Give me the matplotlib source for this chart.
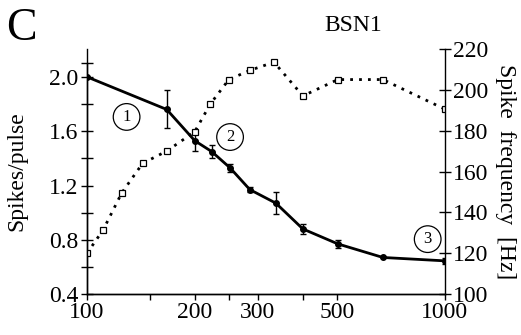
import numpy as np
import matplotlib.pyplot as plt

plt.rcParams["font.family"] = ["Liberation Serif", "DejaVu Serif"]

# stimulus rate (pulses/s) for spikes/pulse curve
rate = [100, 167, 200, 223, 251, 285, 337, 401, 502, 671, 1000]
spikes = [2.0, 1.76, 1.53, 1.45, 1.33, 1.17, 1.07, 0.88, 0.77, 0.67, 0.645]
spikes_err = [0.0, 0.14, 0.075, 0.05, 0.03, 0.02, 0.08, 0.035, 0.03, 0.0, 0.02]

# spike frequency curve (right axis)
rate_f = [100, 111, 125, 143, 167, 200, 221, 249, 285, 333, 401, 502, 671, 1000]
freq = [120, 131.5, 149.5, 164, 170, 179.5, 193, 205, 209.5, 213.5, 197, 205, 205, 190.5]

circ_labels = ["1", "2", "3"]
circ_x = [129, 251, 895]
circ_y = [1.705, 1.557, 0.805]

fig = plt.figure(figsize=(5.21, 3.35), dpi=100)
ax = fig.add_axes([0.167, 0.122, 0.687, 0.732])
ax2 = ax.twinx()

ax.errorbar(rate, spikes, yerr=spikes_err, color="black", lw=2.0, marker="o", ms=4,
            capsize=2.5, elinewidth=1.0, capthick=1.0, zorder=3)
ax2.plot(rate_f, freq, color="black", ls=(0, (1, 2.2)), lw=2.0, marker="s", ms=4,
         mfc="white", mec="black", mew=0.9)

ax.set_xscale("log")
ax.set_xlim(100, 1000)
ax.set_ylim(0.4, 2.206)
ax2.set_ylim(100, 220)

ax.set_xticks([100, 150, 200, 250, 300, 400, 500, 1000])
ax.set_xticklabels(["100", "", "200", "", "300", "", "500", "1000"])
ax.xaxis.set_minor_locator(plt.NullLocator())
ax.set_yticks(list(np.arange(0.4, 2.01, 0.2)) + [2.1])
ax.set_yticklabels(["0.4", "", "0.8", "", "1.2", "", "1.6", "", "2.0", ""])
ax2.set_yticks(np.arange(100, 221, 20))

for a in (ax, ax2):
    a.spines["top"].set_visible(False)
    for s in a.spines.values():
        s.set_linewidth(1.0)
ax.spines["left"].set_bounds(0.4, 2.1)
ax.spines["right"].set_visible(False)

ax.tick_params(axis="x", direction="out", length=4, width=1, labelsize=17, pad=2)
ax.tick_params(axis="y", direction="inout", length=8, width=1, labelsize=17, pad=2)
ax2.tick_params(axis="y", direction="inout", length=8, width=1, labelsize=17, pad=2)

ax.set_ylabel("Spikes/pulse", fontsize=17, va="center")
ax.yaxis.set_label_coords(-0.195, 0.5)
ax2.set_ylabel("Spike  frequency  [Hz]", fontsize=17, rotation=-90, va="center")
ax2.yaxis.set_label_coords(1.168, 0.5)

for lab, cx, cy in zip(circ_labels, circ_x, circ_y):
    ax.text(cx, cy, lab, fontsize=12, ha="center", va="center",
            bbox=dict(boxstyle="circle,pad=0.32", fc="white", ec="black", lw=0.9))

fig.text(0.678, 0.925, "BSN1", fontsize=17, ha="center", va="center")
fig.text(0.042, 0.915, "C", fontsize=33, ha="center", va="center")

fig.savefig("out.png", dpi=100)
